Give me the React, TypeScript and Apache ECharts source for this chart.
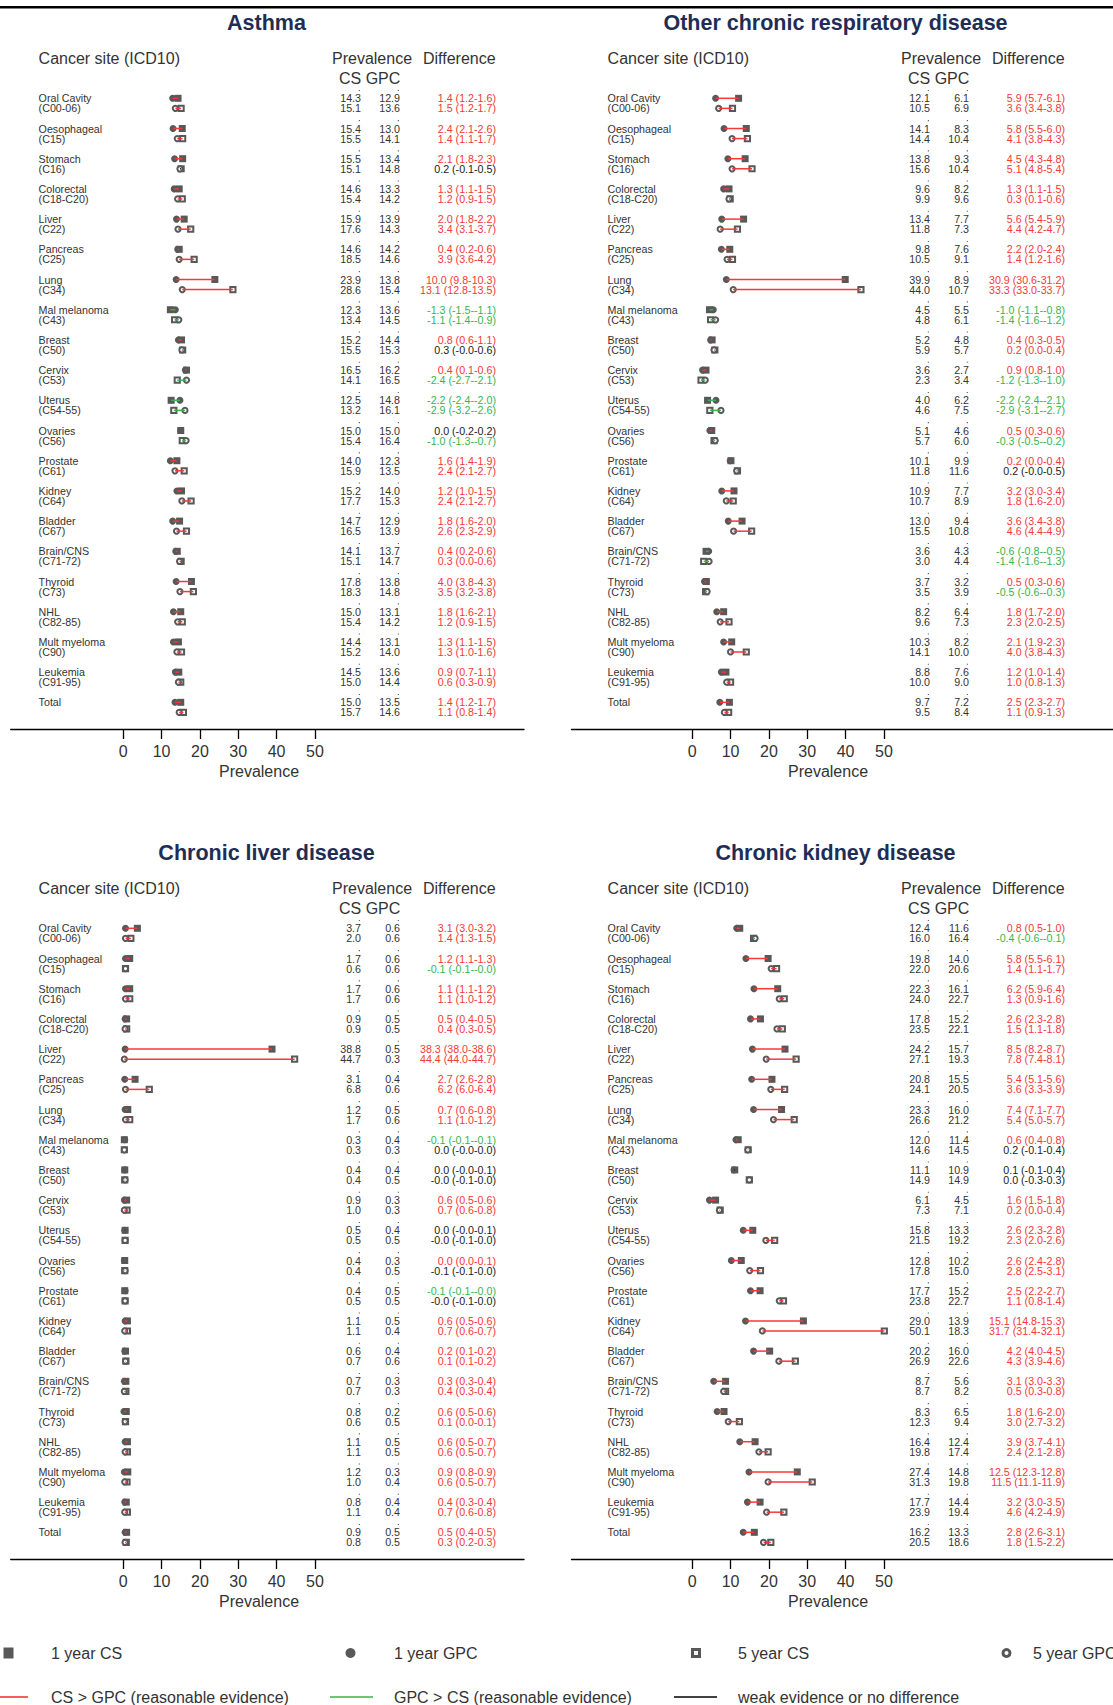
import React, { useEffect, useRef } from 'react';
import * as echarts from 'echarts';

// ---------------- data ----------------
const sites = ['Oral Cavity', 'Oesophageal', 'Stomach', 'Colorectal', 'Liver', 'Pancreas', 'Lung', 'Mal melanoma', 'Breast', 'Cervix', 'Uterus', 'Ovaries', 'Prostate', 'Kidney', 'Bladder', 'Brain/CNS', 'Thyroid', 'NHL', 'Mult myeloma', 'Leukemia', 'Total'];
const codes = ['(C00-06)', '(C15)', '(C16)', '(C18-C20)', '(C22)', '(C25)', '(C34)', '(C43)', '(C50)', '(C53)', '(C54-55)', '(C56)', '(C61)', '(C64)', '(C67)', '(C71-72)', '(C73)', '(C82-85)', '(C90)', '(C91-95)', ''];
const tickValues = [0, 10, 20, 30, 40, 50];
const panelTitles = ['Asthma', 'Other chronic respiratory disease', 'Chronic liver disease', 'Chronic kidney disease'];

// Asthma
const asthmaCS1 = [14.3, 15.4, 15.5, 14.6, 15.9, 14.6, 23.9, 12.3, 15.2, 16.5, 12.5, 15.0, 14.0, 15.2, 14.7, 14.1, 17.8, 15.0, 14.4, 14.5, 15.0];
const asthmaGPC1 = [12.9, 13.0, 13.4, 13.3, 13.9, 14.2, 13.8, 13.6, 14.4, 16.2, 14.8, 15.0, 12.3, 14.0, 12.9, 13.7, 13.8, 13.1, 13.1, 13.6, 13.5];
const asthmaDiff1 = ['1.4 (1.2-1.6)', '2.4 (2.1-2.6)', '2.1 (1.8-2.3)', '1.3 (1.1-1.5)', '2.0 (1.8-2.2)', '0.4 (0.2-0.6)', '10.0 (9.8-10.3)', '-1.3 (-1.5--1.1)', '0.8 (0.6-1.1)', '0.4 (0.1-0.6)', '-2.2 (-2.4--2.0)', '0.0 (-0.2-0.2)', '1.6 (1.4-1.9)', '1.2 (1.0-1.5)', '1.8 (1.6-2.0)', '0.4 (0.2-0.6)', '4.0 (3.8-4.3)', '1.8 (1.6-2.1)', '1.3 (1.1-1.5)', '0.9 (0.7-1.1)', '1.4 (1.2-1.7)'];
const asthmaSig1 = ['r', 'r', 'r', 'r', 'r', 'r', 'r', 'g', 'r', 'r', 'g', 'k', 'r', 'r', 'r', 'r', 'r', 'r', 'r', 'r', 'r'];
const asthmaCS5 = [15.1, 15.5, 15.1, 15.4, 17.6, 18.5, 28.6, 13.4, 15.5, 14.1, 13.2, 15.4, 15.9, 17.7, 16.5, 15.1, 18.3, 15.4, 15.2, 15.0, 15.7];
const asthmaGPC5 = [13.6, 14.1, 14.8, 14.2, 14.3, 14.6, 15.4, 14.5, 15.3, 16.5, 16.1, 16.4, 13.5, 15.3, 13.9, 14.7, 14.8, 14.2, 14.0, 14.4, 14.6];
const asthmaDiff5 = ['1.5 (1.2-1.7)', '1.4 (1.1-1.7)', '0.2 (-0.1-0.5)', '1.2 (0.9-1.5)', '3.4 (3.1-3.7)', '3.9 (3.6-4.2)', '13.1 (12.8-13.5)', '-1.1 (-1.4--0.9)', '0.3 (-0.0-0.6)', '-2.4 (-2.7--2.1)', '-2.9 (-3.2--2.6)', '-1.0 (-1.3--0.7)', '2.4 (2.1-2.7)', '2.4 (2.1-2.7)', '2.6 (2.3-2.9)', '0.3 (0.0-0.6)', '3.5 (3.2-3.8)', '1.2 (0.9-1.5)', '1.3 (1.0-1.6)', '0.6 (0.3-0.9)', '1.1 (0.8-1.4)'];
const asthmaSig5 = ['r', 'r', 'k', 'r', 'r', 'r', 'r', 'g', 'k', 'g', 'g', 'g', 'r', 'r', 'r', 'r', 'r', 'r', 'r', 'r', 'r'];

// Other chronic respiratory disease
const respCS1 = [12.1, 14.1, 13.8, 9.6, 13.4, 9.8, 39.9, 4.5, 5.2, 3.6, 4.0, 5.1, 10.1, 10.9, 13.0, 3.6, 3.7, 8.2, 10.3, 8.8, 9.7];
const respGPC1 = [6.1, 8.3, 9.3, 8.2, 7.7, 7.6, 8.9, 5.5, 4.8, 2.7, 6.2, 4.6, 9.9, 7.7, 9.4, 4.3, 3.2, 6.4, 8.2, 7.6, 7.2];
const respDiff1 = ['5.9 (5.7-6.1)', '5.8 (5.5-6.0)', '4.5 (4.3-4.8)', '1.3 (1.1-1.5)', '5.6 (5.4-5.9)', '2.2 (2.0-2.4)', '30.9 (30.6-31.2)', '-1.0 (-1.1--0.8)', '0.4 (0.3-0.5)', '0.9 (0.8-1.0)', '-2.2 (-2.4--2.1)', '0.5 (0.3-0.6)', '0.2 (0.0-0.4)', '3.2 (3.0-3.4)', '3.6 (3.4-3.8)', '-0.6 (-0.8--0.5)', '0.5 (0.3-0.6)', '1.8 (1.7-2.0)', '2.1 (1.9-2.3)', '1.2 (1.0-1.4)', '2.5 (2.3-2.7)'];
const respSig1 = ['r', 'r', 'r', 'r', 'r', 'r', 'r', 'g', 'r', 'r', 'g', 'r', 'r', 'r', 'r', 'g', 'r', 'r', 'r', 'r', 'r'];
const respCS5 = [10.5, 14.4, 15.6, 9.9, 11.8, 10.5, 44.0, 4.8, 5.9, 2.3, 4.6, 5.7, 11.8, 10.7, 15.5, 3.0, 3.5, 9.6, 14.1, 10.0, 9.5];
const respGPC5 = [6.9, 10.4, 10.4, 9.6, 7.3, 9.1, 10.7, 6.1, 5.7, 3.4, 7.5, 6.0, 11.6, 8.9, 10.8, 4.4, 3.9, 7.3, 10.0, 9.0, 8.4];
const respDiff5 = ['3.6 (3.4-3.8)', '4.1 (3.8-4.3)', '5.1 (4.8-5.4)', '0.3 (0.1-0.6)', '4.4 (4.2-4.7)', '1.4 (1.2-1.6)', '33.3 (33.0-33.7)', '-1.4 (-1.6--1.2)', '0.2 (0.0-0.4)', '-1.2 (-1.3--1.0)', '-2.9 (-3.1--2.7)', '-0.3 (-0.5--0.2)', '0.2 (-0.0-0.5)', '1.8 (1.6-2.0)', '4.6 (4.4-4.9)', '-1.4 (-1.6--1.3)', '-0.5 (-0.6--0.3)', '2.3 (2.0-2.5)', '4.0 (3.8-4.3)', '1.0 (0.8-1.3)', '1.1 (0.9-1.3)'];
const respSig5 = ['r', 'r', 'r', 'r', 'r', 'r', 'r', 'g', 'r', 'g', 'g', 'g', 'k', 'r', 'r', 'g', 'g', 'r', 'r', 'r', 'r'];

// Chronic liver disease
const liverCS1 = [3.7, 1.7, 1.7, 0.9, 38.8, 3.1, 1.2, 0.3, 0.4, 0.9, 0.5, 0.4, 0.4, 1.1, 0.6, 0.7, 0.8, 1.1, 1.2, 0.8, 0.9];
const liverGPC1 = [0.6, 0.6, 0.6, 0.5, 0.5, 0.4, 0.5, 0.4, 0.4, 0.3, 0.4, 0.3, 0.5, 0.5, 0.4, 0.3, 0.2, 0.5, 0.3, 0.4, 0.5];
const liverDiff1 = ['3.1 (3.0-3.2)', '1.2 (1.1-1.3)', '1.1 (1.1-1.2)', '0.5 (0.4-0.5)', '38.3 (38.0-38.6)', '2.7 (2.6-2.8)', '0.7 (0.6-0.8)', '-0.1 (-0.1--0.1)', '0.0 (-0.0-0.1)', '0.6 (0.5-0.6)', '0.0 (-0.0-0.1)', '0.0 (0.0-0.1)', '-0.1 (-0.1--0.0)', '0.6 (0.5-0.6)', '0.2 (0.1-0.2)', '0.3 (0.3-0.4)', '0.6 (0.5-0.6)', '0.6 (0.5-0.7)', '0.9 (0.8-0.9)', '0.4 (0.3-0.4)', '0.5 (0.4-0.5)'];
const liverSig1 = ['r', 'r', 'r', 'r', 'r', 'r', 'r', 'g', 'k', 'r', 'k', 'r', 'g', 'r', 'r', 'r', 'r', 'r', 'r', 'r', 'r'];
const liverCS5 = [2.0, 0.6, 1.7, 0.9, 44.7, 6.8, 1.7, 0.3, 0.4, 1.0, 0.5, 0.4, 0.5, 1.1, 0.7, 0.7, 0.6, 1.1, 1.0, 1.1, 0.8];
const liverGPC5 = [0.6, 0.6, 0.6, 0.5, 0.3, 0.6, 0.6, 0.3, 0.5, 0.3, 0.5, 0.5, 0.5, 0.4, 0.6, 0.3, 0.5, 0.5, 0.4, 0.4, 0.5];
const liverDiff5 = ['1.4 (1.3-1.5)', '-0.1 (-0.1--0.0)', '1.1 (1.0-1.2)', '0.4 (0.3-0.5)', '44.4 (44.0-44.7)', '6.2 (6.0-6.4)', '1.1 (1.0-1.2)', '0.0 (-0.0-0.0)', '-0.0 (-0.1-0.0)', '0.7 (0.6-0.8)', '-0.0 (-0.1-0.0)', '-0.1 (-0.1-0.0)', '-0.0 (-0.1-0.0)', '0.7 (0.6-0.7)', '0.1 (0.1-0.2)', '0.4 (0.3-0.4)', '0.1 (0.0-0.1)', '0.6 (0.5-0.7)', '0.6 (0.5-0.7)', '0.7 (0.6-0.8)', '0.3 (0.2-0.3)'];
const liverSig5 = ['r', 'g', 'r', 'r', 'r', 'r', 'r', 'k', 'k', 'r', 'k', 'k', 'k', 'r', 'r', 'r', 'r', 'r', 'r', 'r', 'r'];

// Chronic kidney disease
const kidneyCS1 = [12.4, 19.8, 22.3, 17.8, 24.2, 20.8, 23.3, 12.0, 11.1, 6.1, 15.8, 12.8, 17.7, 29.0, 20.2, 8.7, 8.3, 16.4, 27.4, 17.7, 16.2];
const kidneyGPC1 = [11.6, 14.0, 16.1, 15.2, 15.7, 15.5, 16.0, 11.4, 10.9, 4.5, 13.3, 10.2, 15.2, 13.9, 16.0, 5.6, 6.5, 12.4, 14.8, 14.4, 13.3];
const kidneyDiff1 = ['0.8 (0.5-1.0)', '5.8 (5.5-6.1)', '6.2 (5.9-6.4)', '2.6 (2.3-2.8)', '8.5 (8.2-8.7)', '5.4 (5.1-5.6)', '7.4 (7.1-7.7)', '0.6 (0.4-0.8)', '0.1 (-0.1-0.4)', '1.6 (1.5-1.8)', '2.6 (2.3-2.8)', '2.6 (2.4-2.8)', '2.5 (2.2-2.7)', '15.1 (14.8-15.3)', '4.2 (4.0-4.5)', '3.1 (3.0-3.3)', '1.8 (1.6-2.0)', '3.9 (3.7-4.1)', '12.5 (12.3-12.8)', '3.2 (3.0-3.5)', '2.8 (2.6-3.1)'];
const kidneySig1 = ['r', 'r', 'r', 'r', 'r', 'r', 'r', 'r', 'k', 'r', 'r', 'r', 'r', 'r', 'r', 'r', 'r', 'r', 'r', 'r', 'r'];
const kidneyCS5 = [16.0, 22.0, 24.0, 23.5, 27.1, 24.1, 26.6, 14.6, 14.9, 7.3, 21.5, 17.8, 23.8, 50.1, 26.9, 8.7, 12.3, 19.8, 31.3, 23.9, 20.5];
const kidneyGPC5 = [16.4, 20.6, 22.7, 22.1, 19.3, 20.5, 21.2, 14.5, 14.9, 7.1, 19.2, 15.0, 22.7, 18.3, 22.6, 8.2, 9.4, 17.4, 19.8, 19.4, 18.6];
const kidneyDiff5 = ['-0.4 (-0.6--0.1)', '1.4 (1.1-1.7)', '1.3 (0.9-1.6)', '1.5 (1.1-1.8)', '7.8 (7.4-8.1)', '3.6 (3.3-3.9)', '5.4 (5.0-5.7)', '0.2 (-0.1-0.4)', '0.0 (-0.3-0.3)', '0.2 (0.0-0.4)', '2.3 (2.0-2.6)', '2.8 (2.5-3.1)', '1.1 (0.8-1.4)', '31.7 (31.4-32.1)', '4.3 (3.9-4.6)', '0.5 (0.3-0.8)', '3.0 (2.7-3.2)', '2.4 (2.1-2.8)', '11.5 (11.1-11.9)', '4.6 (4.2-4.9)', '1.8 (1.5-2.2)'];
const kidneySig5 = ['g', 'r', 'r', 'r', 'r', 'r', 'r', 'k', 'k', 'r', 'r', 'r', 'r', 'r', 'r', 'r', 'r', 'r', 'r', 'r', 'r'];

const panels = [
  { cs1: asthmaCS1, gpc1: asthmaGPC1, diff1: asthmaDiff1, sig1: asthmaSig1, cs5: asthmaCS5, gpc5: asthmaGPC5, diff5: asthmaDiff5, sig5: asthmaSig5 },
  { cs1: respCS1, gpc1: respGPC1, diff1: respDiff1, sig1: respSig1, cs5: respCS5, gpc5: respGPC5, diff5: respDiff5, sig5: respSig5 },
  { cs1: liverCS1, gpc1: liverGPC1, diff1: liverDiff1, sig1: liverSig1, cs5: liverCS5, gpc5: liverGPC5, diff5: liverDiff5, sig5: liverSig5 },
  { cs1: kidneyCS1, gpc1: kidneyGPC1, diff1: kidneyDiff1, sig1: kidneySig1, cs5: kidneyCS5, gpc5: kidneyGPC5, diff5: kidneyDiff5, sig5: kidneySig5 },
];

// ---------------- layout / style ----------------
const FONT = "'Liberation Sans', Arial, Helvetica, sans-serif";
const SIG_COLOR: Record<string, string> = { r: '#f53838', g: '#38b44e', k: '#222222' };
const MARK = '#585858';
const TEXT = '#333333';
const TITLE = '#1f2d55';
const UNIT = 3.835; // px per prevalence unit
const ROW = 10.067; // px per row unit
const PANEL_X = [0, 569, 0, 569];
const PANEL_Y = [0, 0, 830, 830];
const AXIS_L = [10.7, 571.5, 10.7, 571.5];
const AXIS_R = [524, 1113, 524, 1113];
const ZERO_PX = 123.2;
const FIRST_ROW_Y = 98.3;
const AXIS_Y = 729;
const LABEL_X = (38.6 - ZERO_PX) / UNIT;
const CS_X = (361 - ZERO_PX) / UNIT;
const GPC_X = (400 - ZERO_PX) / UNIT;
const DIFF_X = (496 - ZERO_PX) / UNIT;

function txt(x: number, y: number, text: string, size: number, color: string, align = 'left', weight = 'normal') {
  return {
    type: 'text', x, y, silent: true,
    style: {
      text, fill: color, font: `${weight} ${size}px ${FONT}`,
      textAlign: align, textVerticalAlign: 'middle', align, verticalAlign: 'middle',
    },
  };
}

function buildOption() {
  const grid: any[] = [];
  const xAxis: any[] = [];
  const yAxis: any[] = [];
  const series: any[] = [];
  const graphic: any[] = [];

  graphic.push({ type: 'line', silent: true, shape: { x1: 0, y1: 7.3, x2: 1113, y2: 7.3 }, style: { stroke: '#000', lineWidth: 2.5 } });

  panels.forEach((p, k) => {
    const dx = PANEL_X[k];
    const dy = PANEL_Y[k];
    const zero = ZERO_PX + dx;
    const left = AXIS_L[k];
    const right = AXIS_R[k];
    const yMin = -3;
    const yMax = (AXIS_Y - FIRST_ROW_Y) / ROW;
    grid.push({ left, top: FIRST_ROW_Y + yMin * ROW + dy, width: right - left, height: (yMax - yMin) * ROW, containLabel: false, outerBoundsMode: 'none' });
    xAxis.push({
      type: 'value', gridIndex: k, min: (left - zero) / UNIT, max: (right - zero) / UNIT,
      axisLine: { show: true, onZero: false, lineStyle: { color: '#000', width: 1.3 } },
      axisTick: { show: true, customValues: tickValues, length: 10, lineStyle: { color: '#000', width: 1.3 } },
      axisLabel: { show: true, customValues: tickValues, fontSize: 16, fontFamily: FONT, color: TEXT, margin: 14 },
      splitLine: { show: false },
    });
    yAxis.push({ type: 'value', gridIndex: k, min: yMin, max: yMax, inverse: true, show: false });

    // headers
    graphic.push(txt(dx + 266.5, dy + 22.5, panelTitles[k], 21.5, TITLE, 'center', 'bold'));
    graphic.push(txt(dx + 38.6, dy + 58.5, 'Cancer site (ICD10)', 16, TEXT));
    graphic.push(txt(dx + 332, dy + 58.5, 'Prevalence', 16, TEXT));
    graphic.push(txt(dx + 423, dy + 58.5, 'Difference', 16, TEXT));
    graphic.push(txt(dx + 339, dy + 78, 'CS GPC', 16, TEXT));
    graphic.push(txt(dx + 259, dy + 771, 'Prevalence', 16, TEXT, 'center'));

    const common = { xAxisIndex: k, yAxisIndex: k, silent: true, clip: false, animation: false };
    series.push({ ...common, type: 'scatter', name: '1 year CS', symbol: 'rect', symbolSize: 7, itemStyle: { color: MARK, opacity: 1 }, z: 2, data: p.cs1.map((v, i) => [v, 3 * i]) });
    series.push({ ...common, type: 'scatter', name: '1 year GPC', symbol: 'circle', symbolSize: 7, itemStyle: { color: MARK, opacity: 1 }, z: 2, data: p.gpc1.map((v, i) => [v, 3 * i]) });
    series.push({ ...common, type: 'scatter', name: '5 year CS', symbol: 'rect', symbolSize: 5.2, itemStyle: { color: '#fff', borderColor: MARK, borderWidth: 2, opacity: 1 }, z: 2, data: p.cs5.map((v, i) => [v, 3 * i + 1]) });
    series.push({ ...common, type: 'scatter', name: '5 year GPC', symbol: 'circle', symbolSize: 5.2, itemStyle: { color: '#fff', borderColor: MARK, borderWidth: 2, opacity: 1 }, z: 2, data: p.gpc5.map((v, i) => [v, 3 * i + 1]) });

    // connecting lines
    const lineItems: { cs: number; gpc: number; y: number; c: string }[] = [];
    sites.forEach((_, i) => {
      lineItems.push({ cs: p.cs1[i], gpc: p.gpc1[i], y: 3 * i, c: SIG_COLOR[p.sig1[i]] });
      lineItems.push({ cs: p.cs5[i], gpc: p.gpc5[i], y: 3 * i + 1, c: SIG_COLOR[p.sig5[i]] });
    });
    series.push({
      ...common, type: 'custom', z: 5,
      encode: { x: [0, 1], y: 2 },
      data: lineItems.map((d) => [d.cs, d.gpc, d.y]),
      renderItem: (params: any, api: any) => {
        const d = lineItems[params.dataIndex];
        const a = api.coord([api.value(1), api.value(2)]);
        const b = api.coord([api.value(0), api.value(2)]);
        return { type: 'line', shape: { x1: a[0], y1: a[1], x2: b[0], y2: b[1] }, style: { stroke: d.c, lineWidth: 1.5 } };
      },
    });

    // text columns
    const items: { x: number; y: number; t: string; c: string; a: string; dot?: boolean }[] = [];
    sites.forEach((s, i) => {
      items.push({ x: LABEL_X, y: 3 * i, t: s, c: TEXT, a: 'left' });
      if (codes[i]) items.push({ x: LABEL_X, y: 3 * i + 1, t: codes[i], c: TEXT, a: 'left' });
      items.push({ x: CS_X, y: 3 * i, t: p.cs1[i].toFixed(1), c: TEXT, a: 'right' });
      items.push({ x: GPC_X, y: 3 * i, t: p.gpc1[i].toFixed(1), c: TEXT, a: 'right' });
      items.push({ x: DIFF_X, y: 3 * i, t: p.diff1[i], c: SIG_COLOR[p.sig1[i]], a: 'right' });
      items.push({ x: CS_X, y: 3 * i + 1, t: p.cs5[i].toFixed(1), c: TEXT, a: 'right' });
      items.push({ x: GPC_X, y: 3 * i + 1, t: p.gpc5[i].toFixed(1), c: TEXT, a: 'right' });
      items.push({ x: DIFF_X, y: 3 * i + 1, t: p.diff5[i], c: SIG_COLOR[p.sig5[i]], a: 'right' });
      items.push({ x: CS_X, y: 3 * i, t: '', c: '#555', a: 'right', dot: true });
      items.push({ x: GPC_X, y: 3 * i, t: '', c: '#555', a: 'right', dot: true });
    });
    series.push({
      ...common, type: 'custom', z: 6,
      encode: { x: 0, y: 1 },
      data: items.map((d) => [d.x, d.y]),
      renderItem: (params: any, api: any) => {
        const d = items[params.dataIndex];
        const pt = api.coord([api.value(0), api.value(1)]);
        if (d.dot) {
          return { type: 'rect', shape: { x: pt[0] - 2.2, y: pt[1] - 8.4, width: 1.1, height: 1.1 }, style: { fill: d.c } };
        }
        return {
          type: 'text', x: pt[0], y: pt[1],
          style: { text: d.t, fill: d.c, font: `10.7px ${FONT}`, textAlign: d.a, textVerticalAlign: 'middle', align: d.a, verticalAlign: 'middle' },
        };
      },
    });
  });

  // legend (bottom)
  const ly1 = 1653;
  const ly2 = 1697;
  graphic.push({ type: 'rect', silent: true, shape: { x: 3.5, y: ly1 - 5.5, width: 10, height: 11 }, style: { fill: MARK } });
  graphic.push(txt(51, ly1, '1 year CS', 16, TEXT));
  graphic.push({ type: 'circle', silent: true, shape: { cx: 350.5, cy: ly1, r: 5 }, style: { fill: MARK } });
  graphic.push(txt(394, ly1, '1 year GPC', 16, TEXT));
  graphic.push({ type: 'rect', silent: true, shape: { x: 692.5, y: ly1 - 3.5, width: 7, height: 7 }, style: { fill: '#fff', stroke: MARK, lineWidth: 3 } });
  graphic.push(txt(738, ly1, '5 year CS', 16, TEXT));
  graphic.push({ type: 'circle', silent: true, shape: { cx: 1006.5, cy: ly1, r: 3.5 }, style: { fill: '#fff', stroke: MARK, lineWidth: 3 } });
  graphic.push(txt(1033, ly1, '5 year GPC', 16, TEXT));
  graphic.push({ type: 'line', silent: true, shape: { x1: 0, y1: ly2, x2: 28, y2: ly2 }, style: { stroke: SIG_COLOR.r, lineWidth: 1.6 } });
  graphic.push(txt(51, ly2, 'CS > GPC (reasonable evidence)', 16, TEXT));
  graphic.push({ type: 'line', silent: true, shape: { x1: 330, y1: ly2, x2: 373, y2: ly2 }, style: { stroke: SIG_COLOR.g, lineWidth: 1.6 } });
  graphic.push(txt(394, ly2, 'GPC > CS (reasonable evidence)', 16, TEXT));
  graphic.push({ type: 'line', silent: true, shape: { x1: 674, y1: ly2, x2: 717, y2: ly2 }, style: { stroke: '#000', lineWidth: 1.6 } });
  graphic.push(txt(738, ly2, 'weak evidence or no difference', 16, TEXT));

  return {
    animation: false,
    backgroundColor: '#ffffff',
    textStyle: { fontFamily: FONT },
    grid, xAxis, yAxis, series,
    graphic: { elements: graphic },
  };
}

export default function App() {
  const ref = useRef<HTMLDivElement>(null);
  useEffect(() => {
    document.body.style.margin = '0';
    if (!ref.current) return;
    const chart = echarts.init(ref.current, null, { renderer: 'svg' });
    chart.setOption(buildOption() as any);
    return () => chart.dispose();
  }, []);
  return <div ref={ref} style={{ position: 'absolute', left: 0, top: 0, width: 1113, height: 1705 }} />;
}
